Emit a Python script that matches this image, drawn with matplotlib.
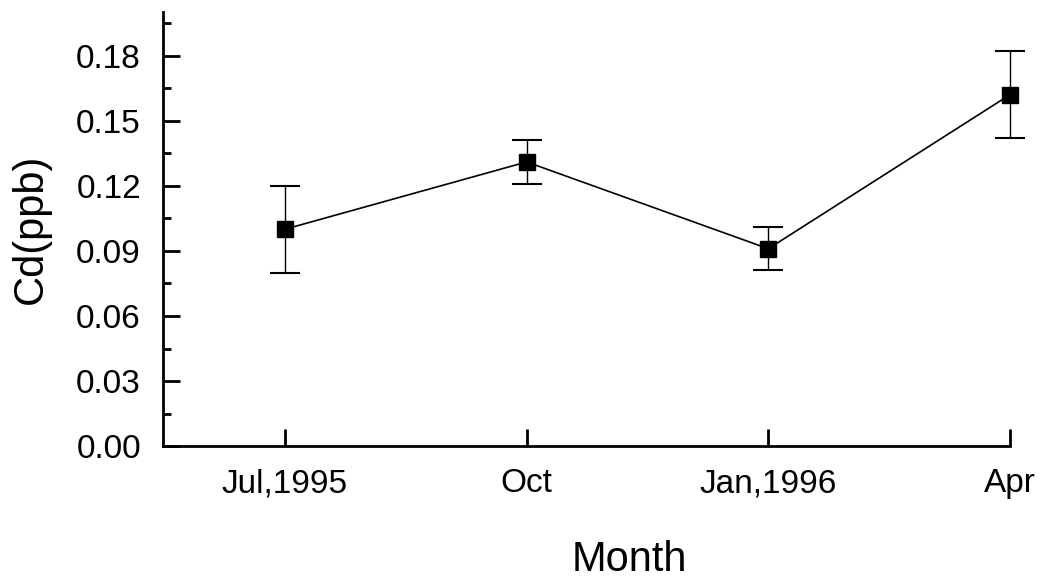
import matplotlib
matplotlib.use("Agg")
import matplotlib.pyplot as plt
from matplotlib.ticker import MultipleLocator, FormatStrFormatter

# data
months = ["Jul,1995", "Oct", "Jan,1996", "Apr"]
cd = [0.100, 0.131, 0.091, 0.162]
cd_err = [0.020, 0.010, 0.010, 0.020]

plt.rcParams['font.family'] = ['Liberation Sans', 'DejaVu Sans']

fig = plt.figure(figsize=(10.46, 5.81), dpi=100)
ax = fig.add_axes([0.156, 0.232, 0.8096, 0.747])

x = list(range(len(months)))
lines = ax.errorbar(x, cd, yerr=cd_err, fmt='s-', color='black', markersize=11,
                    linewidth=1.2, elinewidth=1.0, capsize=11, capthick=1.5)
# keep the last point / error bar visible at the axis edge
for art in lines.get_children():
    art.set_clip_on(False)

ax.set_xlim(-0.504, 3.0)
ax.set_ylim(0, 0.2)
ax.set_xticks(x)
ax.set_xticklabels(months)
ax.yaxis.set_major_locator(MultipleLocator(0.03))
ax.yaxis.set_minor_locator(MultipleLocator(0.015))
ax.yaxis.set_major_formatter(FormatStrFormatter('%.2f'))

ax.spines['top'].set_visible(False)
ax.spines['right'].set_visible(False)
ax.spines['left'].set_linewidth(2)
ax.spines['bottom'].set_linewidth(2)
ax.tick_params(axis='both', direction='in', labelsize=24, width=2, length=12, pad=16)
ax.tick_params(axis='y', which='minor', direction='in', width=2, length=6)

ax.set_xlabel("Month", fontsize=30)
ax.set_ylabel("Cd(ppb)", fontsize=30)
ax.xaxis.set_label_coords(0.551, -0.216)
ax.yaxis.set_label_coords(-0.133, 0.5)

fig.savefig("out.png", dpi=100)
